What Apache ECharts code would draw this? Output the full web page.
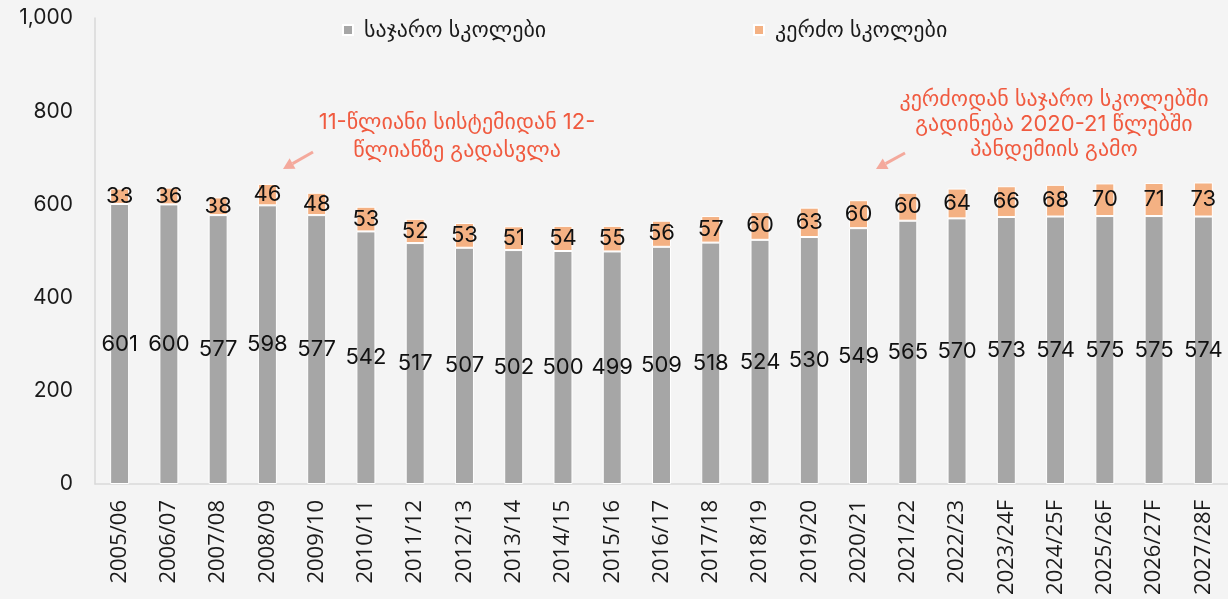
<!DOCTYPE html>
<html>
<head>
<meta charset="utf-8">
<script src="https://cdn.jsdelivr.net/npm/echarts@6/dist/echarts.min.js"></script>
<style>
  html, body { margin: 0; padding: 0; background: #f4f4f4; }
  #chart { width: 1228px; height: 599px; }
</style>
</head>
<body>
<div id="chart"></div>
<script>
// school years
const years = ['2005/06', '2006/07', '2007/08', '2008/09', '2009/10', '2010/11', '2011/12', '2012/13',
  '2013/14', '2014/15', '2015/16', '2016/17', '2017/18', '2018/19', '2019/20', '2020/21', '2021/22',
  '2022/23', '2023/24F', '2024/25F', '2025/26F', '2026/27F', '2027/28F'];
// public schools
const publicSchools = [601, 600, 577, 598, 577, 542, 517, 507, 502, 500, 499, 509, 518, 524, 530, 549,
  565, 570, 573, 574, 575, 575, 574];
// private schools
const privateSchools = [33, 36, 38, 46, 48, 53, 52, 53, 51, 54, 55, 56, 57, 60, 63, 60, 60, 64, 66,
  68, 70, 71, 73];
const seriesNames = ['საჯარო სკოლები', 'კერძო სკოლები'];
const yTicks = [0, 200, 400, 600, 800, 1000];

const labelFont = 'Inter, "DejaVu Sans", sans-serif';
const noteColor = '#f05a3f';
const arrowColor = '#f4a99c';

let myChart = echarts.init(document.getElementById('chart'));

function arrow(x1, y1, x2, y2) {
  // small arrow: shaft + triangular head
  const ang = Math.atan2(y2 - y1, x2 - x1);
  const hl = 11, hw = 6;
  const bx = x2 - hl * Math.cos(ang), by = y2 - hl * Math.sin(ang);
  const px = -Math.sin(ang) * hw, py = Math.cos(ang) * hw;
  return [{
    type: 'line',
    shape: {x1: x1, y1: y1, x2: bx, y2: by},
    style: {stroke: arrowColor, lineWidth: 3}
  }, {
    type: 'polygon',
    shape: {points: [[x2, y2], [bx + px, by + py], [bx - px, by - py]]},
    style: {fill: arrowColor}
  }];
}

const legendBase = {
  top: 14,
  icon: 'rect',
  itemWidth: 10,
  itemHeight: 10,
  itemGap: 0,
  textStyle: {
    fontSize: 22,
    color: '#1a1a1a',
    fontFamily: labelFont,
    padding: [0, 0, 0, 6]
  }
};

myChart.setOption({
  backgroundColor: '#f4f4f4',
  textStyle: {fontFamily: labelFont},
  grid: {
    left: 95,
    top: 18,
    width: 1138,
    bottom: 115,
    containLabel: false
  },
  legend: [
    Object.assign({left: 337, data: [seriesNames[0]]}, legendBase),
    Object.assign({left: 748, data: [seriesNames[1]]}, legendBase)
  ],
  xAxis: {
    type: 'category',
    data: years,
    axisTick: {show: false},
    axisLine: {
      lineStyle: {color: '#d9d9d9', width: 1.5}
    },
    axisLabel: {
      rotate: 90,
      interval: 0,
      margin: 16,
      color: '#1a1a1a',
      fontSize: 22,
      fontFamily: '"Open Sans", sans-serif'
    }
  },
  yAxis: {
    type: 'value',
    min: yTicks[0],
    max: yTicks[yTicks.length - 1],
    interval: 200,
    axisLine: {
      show: true,
      lineStyle: {color: '#d9d9d9', width: 1.5}
    },
    splitLine: {show: false},
    axisTick: {show: false},
    axisLabel: {
      margin: 22,
      color: '#1a1a1a',
      fontSize: 21,
      formatter: function (v) {
        return v.toLocaleString('en-US');
      }
    }
  },
  series: [{
    name: seriesNames[0],
    type: 'bar',
    stack: 'schools',
    barWidth: 19,
    data: publicSchools,
    itemStyle: {color: '#a6a6a6', borderColor: '#ffffff', borderWidth: 1},
    label: {
      show: true,
      position: 'inside',
      color: '#111',
      fontSize: 22
    }
  }, {
    name: seriesNames[1],
    type: 'bar',
    stack: 'schools',
    barWidth: 19,
    data: privateSchools,
    itemStyle: {color: '#f4b183', borderColor: '#ffffff', borderWidth: 1},
    label: {
      show: true,
      position: 'inside',
      color: '#111',
      fontSize: 22
    }
  }],
  graphic: [{
    type: 'text',
    x: 457,
    y: 108,
    style: {
      text: '11-წლიანი სისტემიდან 12-\nწლიანზე გადასვლა',
      align: 'center',
      verticalAlign: 'top',
      fill: noteColor,
      font: '22px ' + labelFont,
      lineHeight: 28
    }
  }, {
    type: 'text',
    x: 1054,
    y: 87,
    style: {
      text: 'კერძოდან საჯარო სკოლებში\nგადინება 2020-21 წლებში\nპანდემიის გამო',
      align: 'center',
      verticalAlign: 'top',
      fill: noteColor,
      font: '22px ' + labelFont,
      lineHeight: 25
    }
  }].concat(arrow(313, 152, 283, 169), arrow(905, 153, 876, 169))
});
</script>
</body>
</html>
